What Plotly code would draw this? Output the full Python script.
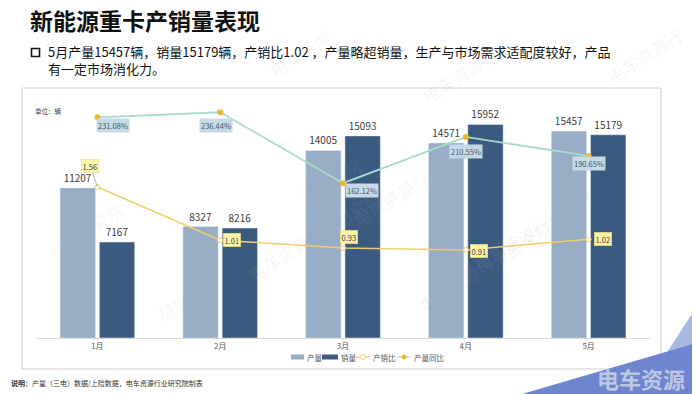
import plotly.graph_objects as go

months = ["1月", "2月", "3月", "4月", "5月"]
production = [11207, 8327, 14005, 14571, 15457]
sales = [7167, 8216, 15093, 15952, 15179]
ratio = [1.56, 1.01, 0.93, 0.91, 1.02]
yoy = [231.08, 236.44, 162.12, 210.55, 190.65]
yoy_labels = ["231.08%", "236.44%", "162.12%", "210.55%", "190.65%"]
ratio_labels = ["1.56", "1.01", "0.93", "0.91", "1.02"]
series_names = ["产量", "销量", "产销比", "产量同比"]

C_PROD, C_SALES, C_RATIO, C_YOY, C_DOT = "#97AEC6", "#3A5A7F", "#F2CD6A", "#A8DCCB", "#E8BC2E"

# page body has an 8px margin: build the figure 8px smaller and map reference pixels
OFF = 8
W, H = 700 - OFF, 394 - OFF
PLOT_L, PLOT_R, PLOT_T, PLOT_B = 36, 650, 97, 338  # in reference pixels
L, R, T, B = PLOT_L - OFF, 700 - PLOT_R, PLOT_T - OFF, 394 - PLOT_B
PW, PH = W - L - R, H - T - B


def px(x):
    return (x - PLOT_L) / PW


def py(y):
    return (PLOT_B - y) / PH


fig = go.Figure()
fig.add_trace(go.Bar(x=months, y=production, name=series_names[0], marker=dict(color=C_PROD),
                     text=[str(v) for v in production], textposition="outside",
                     textfont=dict(size=10, color="#404040"), cliponaxis=False))
fig.add_trace(go.Bar(x=months, y=sales, name=series_names[1], marker=dict(color=C_SALES),
                     text=[str(v) for v in sales], textposition="outside",
                     textfont=dict(size=10, color="#404040"), cliponaxis=False))
fig.add_trace(go.Scatter(x=months, y=ratio, name=series_names[2], yaxis="y3", mode="lines+markers",
                         line=dict(color=C_RATIO, width=1.5),
                         marker=dict(size=5, color="white", line=dict(color=C_RATIO, width=1)),
                         cliponaxis=False))
fig.add_trace(go.Scatter(x=months, y=yoy, name=series_names[3], yaxis="y2", mode="lines+markers",
                         line=dict(color=C_YOY, width=1.8),
                         marker=dict(size=6, color=C_DOT),
                         cliponaxis=False))

# YoY labels (offsets in px)
yoy_off = [(16, 8), (-4, 13), (19, 7), (0, 15), (0, 8)]
for m, v, t, (dx, dy) in zip(months, yoy, yoy_labels, yoy_off):
    fig.add_annotation(x=m, y=v, yref="y2", text=t, showarrow=False, xshift=dx, yshift=-dy,
                       bgcolor="#C6DAE5", font=dict(size=7.5, color="#3E5570"), borderpad=1)

ratio_off = [(-7, 21), (12, 0), (6, 11), (13, -1), (14, 0)]
for i, (m, v, t, (dx, dy)) in enumerate(zip(months, ratio, ratio_labels, ratio_off)):
    fig.add_annotation(x=m, y=v, yref="y3", text=t, showarrow=(i == 0), ax=dx, ay=-dy,
                       arrowcolor="#A0A0A0", arrowwidth=0.8, arrowhead=0,
                       xshift=0 if i == 0 else dx, yshift=0 if i == 0 else dy,
                       bgcolor="#FFF3A8", bordercolor="#E9D57A", borderwidth=0.5,
                       font=dict(size=7.5, color="#404040"), borderpad=1)

shapes = [
    dict(type="rect", xref="paper", yref="paper", x0=px(22), x1=px(661), y0=py(369), y1=py(88),
         line=dict(color="#D0D0D0", width=1), fillcolor="rgba(0,0,0,0)", layer="below"),
    dict(type="rect", xref="paper", yref="paper", x0=px(31.5), x1=px(39.5), y0=py(56.5), y1=py(48.5),
         line=dict(color="#111111", width=1.6), fillcolor="rgba(0,0,0,0)"),
    dict(type="path", xref="paper", yref="paper",
         path=f"M {px(701)} {py(300)} L {px(640)} {py(394)} L {px(700)} {py(394)} Z",
         line=dict(width=0), fillcolor="#A9B8E0", layer="below"),
    dict(type="path", xref="paper", yref="paper",
         path=f"M {px(522)} {py(394)} L {px(700)} {py(342)} L {px(700)} {py(394)} Z",
         line=dict(width=0), fillcolor="#6E86CF", layer="below"),
]

# compact legend (symbols + real text), placed like the reference
LY = 357
leg_ann = []
shapes += [
    dict(type="rect", xref="paper", yref="paper", x0=px(291), x1=px(304), y0=py(LY + 2.5), y1=py(LY - 2.5),
         line=dict(width=0), fillcolor=C_PROD),
    dict(type="rect", xref="paper", yref="paper", x0=px(322), x1=px(338), y0=py(LY + 2.5), y1=py(LY - 2.5),
         line=dict(width=0), fillcolor=C_SALES),
    dict(type="line", xref="paper", yref="paper", x0=px(356), x1=px(370), y0=py(LY), y1=py(LY),
         line=dict(color=C_RATIO, width=1.2)),
    dict(type="circle", xref="paper", yref="paper", x0=px(360.5), x1=px(365.5), y0=py(LY + 2.5), y1=py(LY - 2.5),
         line=dict(color=C_RATIO, width=1), fillcolor="white"),
    dict(type="line", xref="paper", yref="paper", x0=px(397), x1=px(411), y0=py(LY), y1=py(LY),
         line=dict(color=C_YOY, width=1.2)),
    dict(type="circle", xref="paper", yref="paper", x0=px(401.5), x1=px(406.5), y0=py(LY + 2.5), y1=py(LY - 2.5),
         line=dict(width=0), fillcolor=C_DOT),
]
for name, x in zip(series_names, [305, 339, 371, 412]):
    leg_ann.append(dict(text=name, x=px(x), y=py(LY), xanchor="left", yanchor="middle",
                        font=dict(size=7.5, color="#595959")))

ann = [
    dict(text="<b>新能源重卡产销量表现</b>", x=px(28), y=py(20), xanchor="left", yanchor="middle",
         font=dict(size=23, color="#111111")),
    dict(text="5月产量15457辆，销量15179辆，产销比1.02 ，产量略超销量，生产与市场需求适配度较好，产品<br>有一定市场消化力。",
         x=px(46), y=py(60), xanchor="left", yanchor="middle", align="left",
         font=dict(size=13, color="#111111")),
    dict(text="单位：辆", x=px(33), y=py(111), xanchor="left", yanchor="middle",
         font=dict(size=6.5, color="#404040")),
    dict(text="<b>说明：</b>产量（三电）数据/上险数据，电车资源行业研究院制表", x=px(9), y=py(383),
         xanchor="left", yanchor="middle", font=dict(size=7, color="#333333")),
    dict(text="<b>电车资源</b>", x=px(641), y=py(378), xanchor="center", yanchor="middle",
         font=dict(size=22, color="rgba(225,228,238,0.7)")),
] + leg_ann
for a in ann:
    a.update(xref="paper", yref="paper", showarrow=False)
    fig.add_annotation(**a)

wm = [(20, 25, "行业"), (300, 22, "电车资源"), (520, 30, "电车资源行业"), (690, 20, "电车资源行"),
      (40, 230, "行业研究院"), (240, 235, "电车资源行业研究院"), (330, 150, "业研究院"),
      (420, 180, "电车资源行业研究院"), (600, 230, "电车资源行业研究"), (150, 330, "研究院"),
      (560, 320, "电车资源行业研究院")]
for x, y, t in wm:
    fig.add_annotation(text=t, x=px(x), y=py(y), xref="paper", yref="paper", showarrow=False,
                       textangle=-32, font=dict(size=17, color="rgba(170,170,170,0.13)"))

fig.update_layout(
    width=W, height=H, margin=dict(l=L, r=R, t=T, b=B, autoexpand=False),
    paper_bgcolor="white", plot_bgcolor="white",
    font=dict(family="Noto Sans CJK SC, sans-serif"),
    barmode="group", bargap=0.36, bargroupgap=0.1,
    shapes=shapes,
    xaxis=dict(showgrid=False, showline=True, linecolor="#D9D9D9", linewidth=1, ticks="",
               tickfont=dict(size=8, color="#595959")),
    yaxis=dict(range=[0, 18000], visible=False),
    yaxis2=dict(range=[0, 252.4], overlaying="y", visible=False),
    yaxis3=dict(range=[0, 2.49], overlaying="y", visible=False),
    showlegend=False,
)

fig.write_html("out.html")
